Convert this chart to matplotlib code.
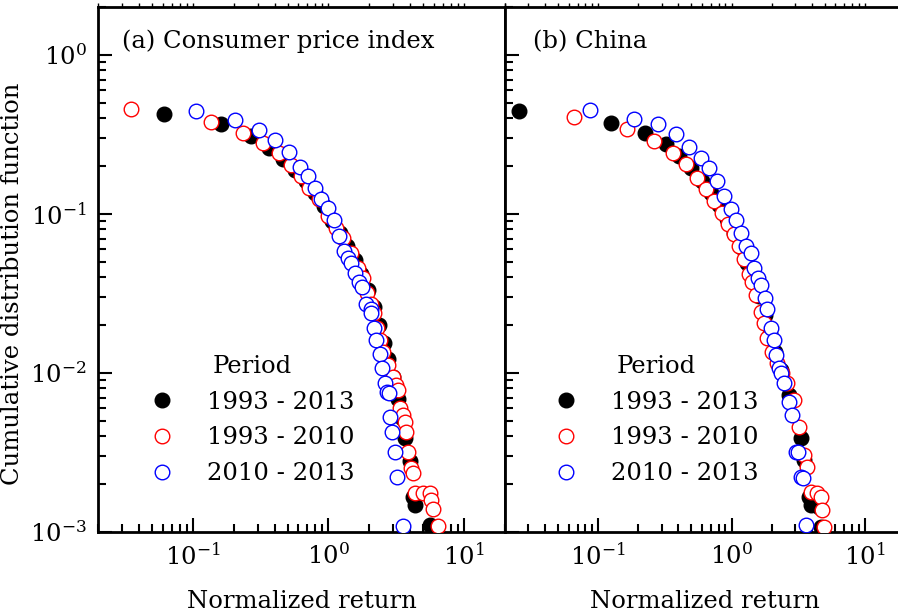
import matplotlib
matplotlib.use("Agg")
import matplotlib.pyplot as plt
from matplotlib.ticker import LogLocator, NullFormatter

plt.rcParams["font.family"] = "DejaVu Serif"
plt.rcParams["mathtext.fontset"] = "dejavuserif"

# -----------------------------
# DATA
# -----------------------------
# (a) Consumer price index
cpi_all_x = [0.061, 0.161, 0.267, 0.362, 0.46, 0.57, 0.68, 0.80, 0.93, 1.07, 1.22, 1.38, 1.56,
             1.75, 1.95, 2.15, 2.35, 2.55, 2.75, 3.0, 3.27, 3.5, 3.68, 4.0, 4.22, 4.36, 5.62]
cpi_all_y = [0.426, 0.369, 0.31, 0.261, 0.222, 0.19, 0.16, 0.135, 0.112, 0.09, 0.076, 0.063, 0.051,
             0.042, 0.033, 0.026, 0.02, 0.0155, 0.0122, 0.0095, 0.0069, 0.0052, 0.0039, 0.0028,
             0.00166, 0.00148, 0.0011]

cpi_early_x = [0.035, 0.136, 0.233, 0.327, 0.429, 0.526, 0.623, 0.713, 0.844, 1.0, 1.145, 1.289,
               1.476, 1.663, 1.808, 1.935, 2.07, 2.18, 2.29, 2.41, 2.54, 2.76, 3.01, 3.16, 3.27,
               3.38, 3.56, 3.68, 3.75, 3.87, 4.08, 4.22, 4.36, 5.0, 5.62, 5.72, 5.92, 6.44]
cpi_early_y = [0.458, 0.380, 0.324, 0.280, 0.243, 0.204, 0.174, 0.146, 0.125, 0.0976, 0.082, 0.071,
               0.0564, 0.046, 0.0398, 0.0316, 0.0273, 0.0237, 0.0191, 0.0160, 0.0135, 0.0112,
               0.00938, 0.00836, 0.00778, 0.0060, 0.00542, 0.0049, 0.00424, 0.00318, 0.00252,
               0.00234, 0.00175, 0.00175, 0.00175, 0.00158, 0.00139, 0.00109]

cpi_late_x = [0.105, 0.204, 0.306, 0.401, 0.508, 0.612, 0.701, 0.802, 0.888, 1.0, 1.107, 1.205,
              1.311, 1.403, 1.476, 1.58, 1.69, 1.778, 1.90, 2.04, 2.07, 2.18, 2.25, 2.41, 2.49,
              2.62, 2.72, 2.81, 2.86, 2.96, 3.11, 3.22, 3.56]
cpi_late_y = [0.445, 0.391, 0.338, 0.292, 0.246, 0.198, 0.174, 0.146, 0.125, 0.1096, 0.0921, 0.0731,
              0.0588, 0.0532, 0.0488, 0.0428, 0.0371, 0.0345, 0.0273, 0.0254, 0.0237, 0.0191,
              0.0160, 0.0131, 0.0107, 0.0086, 0.00755, 0.00745, 0.00526, 0.00424, 0.00318,
              0.00221, 0.00109]

# (b) China
cn_all_x = [0.0255, 0.125, 0.224, 0.322, 0.403, 0.495, 0.60, 0.70, 0.80, 0.92, 1.04, 1.17, 1.30,
            1.44, 1.60, 1.78, 1.94, 2.11, 2.34, 2.69, 3.30, 3.48, 3.79, 3.93, 4.5, 4.67]
cn_all_y = [0.445, 0.374, 0.324, 0.276, 0.232, 0.195, 0.162, 0.136, 0.113, 0.0933, 0.0763, 0.0623,
            0.0494, 0.0393, 0.0303, 0.023, 0.0177, 0.0135, 0.0104, 0.00723, 0.00388, 0.00283,
            0.00166, 0.00148, 0.00143, 0.00107]

cn_early_x = [0.0659, 0.164, 0.262, 0.363, 0.455, 0.55, 0.642, 0.736, 0.846, 0.938, 1.04, 1.13,
              1.24, 1.35, 1.42, 1.52, 1.66, 1.75, 1.84, 2.0, 2.18, 2.38, 2.59, 2.93, 3.19, 3.48,
              3.66, 3.93, 4.35, 4.67, 4.75, 4.91]
cn_early_y = [0.408, 0.343, 0.288, 0.243, 0.207, 0.169, 0.144, 0.121, 0.102, 0.0869, 0.0752,
              0.0632, 0.0524, 0.0422, 0.0371, 0.0307, 0.024, 0.0205, 0.0165, 0.0135, 0.0115,
              0.00993, 0.0086, 0.00673, 0.00456, 0.00304, 0.00255, 0.00178, 0.00175, 0.00166,
              0.00137, 0.00107]

cn_late_x = [0.0869, 0.185, 0.281, 0.383, 0.479, 0.589, 0.676, 0.776, 0.875, 0.988, 1.08, 1.17,
             1.28, 1.40, 1.47, 1.57, 1.66, 1.78, 1.84, 1.97, 2.07, 2.15, 2.26, 2.34, 2.46, 2.69,
             2.83, 3.03, 3.14, 3.30, 3.43, 3.61]
cn_late_y = [0.452, 0.396, 0.369, 0.319, 0.264, 0.225, 0.195, 0.162, 0.130, 0.108, 0.092, 0.0763,
             0.0632, 0.0564, 0.046, 0.0398, 0.0355, 0.0298, 0.0254, 0.0191, 0.016, 0.0129, 0.0108,
             0.00993, 0.0086, 0.00654, 0.00542, 0.00318, 0.00318, 0.00221, 0.0022, 0.0011]

periods = ["1993 - 2013", "1993 - 2010", "2010 - 2013"]
panel_titles = ["(a) Consumer price index", "(b) China"]

# -----------------------------
# PLOT
# -----------------------------
fig = plt.figure(figsize=(8.98, 6.15), dpi=100)
ax1 = fig.add_axes([98 / 898, 1 - 532 / 615, 407 / 898, 525 / 615])
ax2 = fig.add_axes([505 / 898, 1 - 532 / 615, 400 / 898, 525 / 615])

panels = [
    (ax1, cpi_all_x, cpi_all_y, cpi_early_x, cpi_early_y, cpi_late_x, cpi_late_y),
    (ax2, cn_all_x, cn_all_y, cn_early_x, cn_early_y, cn_late_x, cn_late_y),
]

fs = 17.5
ms = 10.5

for i, (ax, ax_, ay_, ex, ey, lx, ly) in enumerate(panels):
    ax.plot(ax_, ay_, "o", ms=ms, mfc="black", mec="black", mew=1, label=periods[0], zorder=3)
    ax.plot(ex, ey, "o", ms=ms, mfc="white", mec="red", mew=1, label=periods[1], zorder=4)
    ax.plot(lx, ly, "o", ms=ms, mfc="white", mec="blue", mew=1, label=periods[2], zorder=5)

    ax.set_xscale("log")
    ax.set_yscale("log")
    ax.set_xlim(0.02, 20)
    ax.set_ylim(1e-3, 2)

    ax.xaxis.set_major_locator(LogLocator(base=10, numticks=10))
    ax.xaxis.set_minor_locator(LogLocator(base=10, subs=range(2, 10), numticks=20))
    ax.xaxis.set_minor_formatter(NullFormatter())
    ax.yaxis.set_minor_locator(LogLocator(base=10, subs=range(2, 10), numticks=20))
    ax.yaxis.set_minor_formatter(NullFormatter())

    ax.tick_params(which="both", direction="in", labelsize=fs, width=1.5)
    ax.tick_params(which="major", length=10, pad=8)
    ax.tick_params(which="minor", length=6)
    ax.tick_params(axis="y", right=False)

    for s in ax.spines.values():
        s.set_linewidth(2)

    ax.set_xlabel("Normalized return", fontsize=fs, labelpad=15)
    ax.text(0.06 if i == 0 else 0.07, 0.922, panel_titles[i], transform=ax.transAxes,
            fontsize=fs, va="baseline", ha="left")

    leg = ax.legend(title="Period", loc="center", bbox_to_anchor=(0.378, 0.213),
                    frameon=False, fontsize=fs, title_fontsize=fs,
                    handlelength=1.0, handletextpad=1.35, labelspacing=0.52,
                    markerscale=1.0)

    sec = ax.secondary_xaxis("top")
    sec.tick_params(which="both", direction="out", length=3, labeltop=False, width=1)

ax1.set_ylabel("Cumulative distribution function", fontsize=fs)
ax1.yaxis.set_label_coords(-0.182, 0.472)
ax2.tick_params(axis="y", which="both", labelleft=False)

fig.savefig("out.png", dpi=100)
